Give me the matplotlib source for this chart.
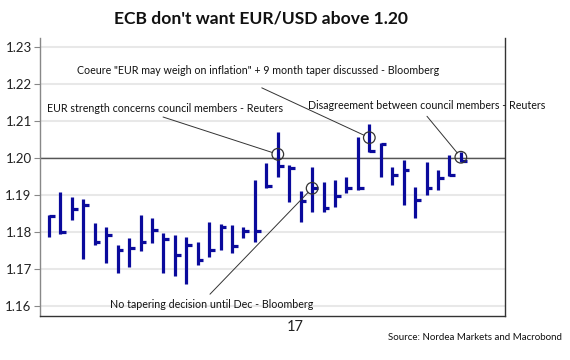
import matplotlib
matplotlib.use("Agg")
import matplotlib.pyplot as plt
import numpy as np

# ---- data (EUR/USD daily high / low / close) ----
high = [1.1845, 1.1909, 1.1894, 1.1888, 1.1823, 1.1814, 1.1764, 1.1782, 1.1845, 1.1837,
        1.1796, 1.1791, 1.1787, 1.1773, 1.1827, 1.1821, 1.1818, 1.1814, 1.1940, 1.1986,
        1.2071, 1.1982, 1.1911, 1.1976, 1.1935, 1.1940, 1.1949, 1.2058, 1.2092, 1.2040,
        1.1976, 1.1995, 1.1921, 1.1989, 1.1967, 1.2008, 1.2017]
low = [1.1785, 1.1794, 1.1832, 1.1727, 1.1764, 1.1715, 1.1689, 1.1704, 1.1749, 1.1770,
       1.1688, 1.1681, 1.1660, 1.1710, 1.1731, 1.1751, 1.1742, 1.1782, 1.1773, 1.1918,
       1.1948, 1.1882, 1.1827, 1.1854, 1.1854, 1.1867, 1.1906, 1.1913, 1.2017, 1.1949,
       1.1927, 1.1873, 1.1838, 1.1901, 1.1914, 1.1951, 1.1989]
close = [1.1843, 1.1800, 1.1861, 1.1873, 1.1772, 1.1791, 1.1751, 1.1755, 1.1773, 1.1805,
         1.1780, 1.1737, 1.1764, 1.1724, 1.1751, 1.1812, 1.1762, 1.1803, 1.1802, 1.1924,
         1.1978, 1.1974, 1.1884, 1.1918, 1.1864, 1.1896, 1.1918, 1.1918, 1.2019, 1.2037,
         1.1953, 1.1967, 1.1886, 1.1918, 1.1945, 1.1953, 1.1993]

event_idx = [20, 28, 36, 23]
event_level = [1.2010, 1.2055, 1.2002, 1.1918]
event_text = ["EUR strength concerns council members - Reuters",
              "Coeure \"EUR may weigh on inflation\" + 9 month taper discussed - Bloomberg",
              "Disagreement between council members - Reuters",
              "No tapering decision until Dec - Bloomberg"]

yticks = [1.16, 1.17, 1.18, 1.19, 1.20, 1.21, 1.22, 1.23]
xtick_pos = [21.5]
xtick_labels = ["17"]
title = "ECB don't want EUR/USD above 1.20"
source = "Source: Nordea Markets and Macrobond"

plt.rcParams['font.family'] = ['Lato', 'DejaVu Sans']

fig = plt.figure(figsize=(5.7, 3.6), dpi=100)
ax = fig.add_axes([40/570, 1-316/360, 465/570, 278/360])

x = np.arange(len(high))
bar_col = '#0a0a9c'
ax.vlines(x, low, high, colors=bar_col, lw=2.3, zorder=3)
ax.hlines(close, x, x + 0.5, colors=bar_col, lw=2.3, zorder=3)

for v in yticks:
    ax.axhline(v, color='#e8e8e8', lw=1.5, zorder=0)
ax.axhline(1.20, color='#555555', lw=1.0, zorder=2)

ax.scatter([x[i] for i in event_idx], event_level, s=70, facecolors='none',
           edgecolors='#333333', linewidths=0.9, zorder=4)

# text positions (left edge, vertical centre) and line starts
text_pos = [(-0.17, 1.2133), (2.45, 1.2238), (22.64, 1.2141), (5.33, 1.1604)]
line_start = [(9.97, 1.2111), (18.6, 1.2190), (33.04, 1.2113), (14.07, 1.1631)]
for (tx, ty), (lx, ly), i, lev, txt in zip(text_pos, line_start, event_idx, event_level, event_text):
    ax.text(tx, ty, txt, fontsize=7.7, color='#111111', ha='left', va='center', zorder=5)
    ax.annotate('', xy=(x[i], lev), xytext=(lx, ly),
                arrowprops=dict(arrowstyle='-', color='#333333', lw=0.7,
                                shrinkA=0, shrinkB=4), zorder=4)

ax.set_xlim(-0.787, 39.86)
ax.set_ylim(1.1572, 1.2325)
ax.set_yticks(yticks)
ax.set_yticklabels([f"{v:.2f}" for v in yticks], fontsize=9.5, color='#222222')
ax.set_xticks(xtick_pos)
ax.set_xticklabels(xtick_labels, fontsize=10.5, color='#222222')
ax.tick_params(axis='x', length=0, pad=3)
ax.tick_params(axis='y', length=4, width=0.8, color='#888888', pad=2)

ax.spines['top'].set_visible(False)
ax.spines['left'].set_color('#888888')
ax.spines['right'].set_color('#333333')
ax.spines['bottom'].set_color('#333333')
for s in ['left', 'right', 'bottom']:
    ax.spines[s].set_linewidth(1.0)

fig.text(261/570, 1-18/360, title, fontsize=12.6, fontweight='bold', ha='center', va='center',
         color='#111111')
fig.text(562/570, 1-338/360, source, fontsize=7.0, ha='right', va='center', color='#111111')

fig.savefig('out.png', dpi=100)
